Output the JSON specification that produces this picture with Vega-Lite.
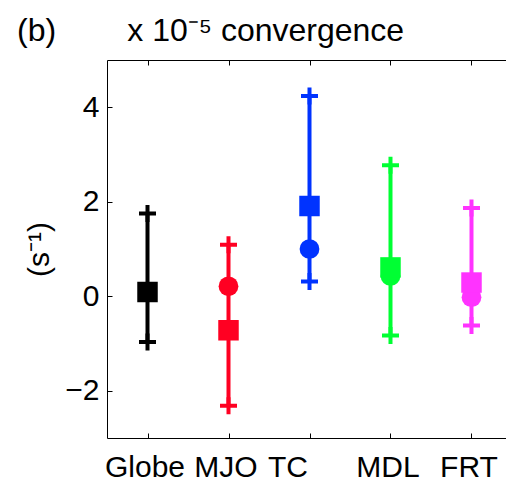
{
  "$schema": "https://vega.github.io/schema/vega-lite/v6.json",
  "autosize": {"type": "none"},
  "padding": {"left": 107, "top": 60, "right": 0, "bottom": 47},
  "width": 399,
  "height": 378,
  "background": "white",
  "title": {
    "text": "(b)\u00a0\u00a0\u00a0\u00a0\u00a0\u00a0\u00a0\u00a0x 10\u207b\u2075 convergence",
    "anchor": "start",
    "frame": "group",
    "dx": -90,
    "dy": 29,
    "baseline": "alphabetic",
    "offset": 16,
    "fontSize": 32,
    "fontWeight": "normal",
    "color": "black",
    "font": "Liberation Sans"
  },
  "data": {
    "values": [
      {"region": "Globe", "low": -0.97, "high": 1.75, "square": 0.09, "circle": null},
      {"region": "MJO", "low": -2.32, "high": 1.09, "square": -0.72, "circle": 0.21},
      {"region": "TC", "low": 0.31, "high": 4.24, "square": 1.91, "circle": 1.0},
      {"region": "MDL", "low": -0.83, "high": 2.77, "square": 0.61, "circle": 0.43},
      {"region": "FRT", "low": -0.62, "high": 1.87, "square": 0.29, "circle": -0.02}
    ]
  },
  "resolve": {"axis": {"x": "independent"}},
  "layer": [
    {
      "mark": {"type": "rule", "strokeWidth": 4},
      "encoding": {
        "x": {
          "field": "region", "type": "nominal", "sort": null,
          "scale": {"type": "point", "padding": 0.463, "align": 0.54},
          "axis": {
            "orient": "bottom", "title": null, "labelAngle": 0,
            "labelFontSize": 30, "labelColor": "black", "labelPadding": 19,
            "labelOffset": {"condition": {"test": "datum.value == 'TC'", "value": -22}, "value": -3},
            "tickSize": -5, "tickColor": "black", "tickWidth": 1,
            "domainColor": "black", "domainWidth": 1
          }
        },
        "y": {"field": "low", "type": "quantitative", "title": "(s\u207b\u00b9)",
          "scale": {"domain": [-3, 5], "nice": false, "zero": false},
          "axis": {
            "values": [-2, 0, 2, 4], "grid": false,
            "labelFontSize": 30, "labelColor": "black", "labelPadding": 13,
            "tickSize": -5, "tickColor": "black", "tickWidth": 1,
            "domainColor": "black", "domainWidth": 1,
            "titleFontSize": 30, "titleFontWeight": "normal", "titleColor": "black",
            "titlePadding": 10
          }
        },
        "y2": {"field": "high"},
        "color": {"field": "region", "type": "nominal", "legend": null,
          "scale": {"domain": ["Globe", "MJO", "TC", "MDL", "FRT"], "range": ["#000000", "#ff0022", "#0033ff", "#00ff33", "#ff33ff"]}}
      }
    },
    {
      "transform": [{"fold": ["low", "high"], "as": ["end", "cap"]}],
      "mark": {"type": "point", "shape": "M-1,0H1M0,-1V1", "filled": false, "strokeWidth": 4, "size": 289, "opacity": 1},
      "encoding": {
        "x": {
          "field": "region", "type": "nominal", "sort": null,
          "axis": {
            "orient": "top", "title": null, "labels": false,
            "tickSize": -5, "tickColor": "black", "tickWidth": 1,
            "domainColor": "black", "domainWidth": 1
          }
        },
        "y": {"field": "cap", "type": "quantitative", "title": "(s\u207b\u00b9)"},
        "color": {"field": "region", "type": "nominal", "legend": null}
      }
    },
    {
      "transform": [{"filter": "datum.circle != null"}],
      "mark": {"type": "point", "shape": "circle", "filled": true, "size": 390, "opacity": 1},
      "encoding": {
        "x": {"field": "region", "type": "nominal", "sort": null, "axis": null},
        "y": {"field": "circle", "type": "quantitative", "title": "(s\u207b\u00b9)"},
        "color": {"field": "region", "type": "nominal", "legend": null}
      }
    },
    {
      "mark": {"type": "point", "shape": "square", "filled": true, "size": 420, "opacity": 1},
      "encoding": {
        "x": {"field": "region", "type": "nominal", "sort": null, "axis": null},
        "y": {"field": "square", "type": "quantitative", "title": "(s\u207b\u00b9)"},
        "color": {"field": "region", "type": "nominal", "legend": null}
      }
    }
  ],
  "config": {
    "font": "Liberation Sans",
    "view": {"stroke": null}
  }
}
